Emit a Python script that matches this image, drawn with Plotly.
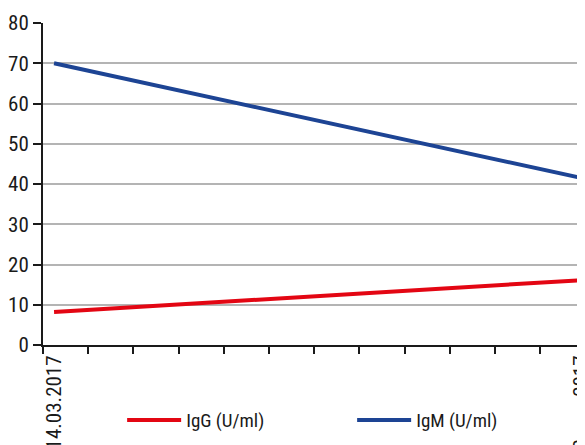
import plotly.graph_objects as go

dates = ["2017-03-14", "2017-04-25"]
date_labels = ["14.03.2017", "25.04.2017"]
igg = [8.2, 16.1]
igm = [70, 41.5]
y_ticks = [0, 10, 20, 30, 40, 50, 60, 70, 80]

FONT = "Liberation Sans Narrow, Roboto Condensed, DejaVu Sans Condensed, sans-serif"
RED = "#e30613"
BLUE = "#1d4494"

fig = go.Figure()
fig.add_trace(go.Scatter(x=dates, y=igg, mode="lines", name="IgG (U/ml)",
                         line=dict(color=RED, width=4), cliponaxis=False))
fig.add_trace(go.Scatter(x=dates, y=igm, mode="lines", name="IgM (U/ml)",
                         line=dict(color=BLUE, width=4), cliponaxis=False))

fig.update_layout(
    width=577, height=437,
    margin=dict(l=35, r=0, t=15, b=100, autoexpand=False),
    plot_bgcolor="white", paper_bgcolor="white",
    font=dict(family=FONT, size=21, color="#1a1a1a"),
    showlegend=True,
    legend=dict(orientation="h", x=0.146, xanchor="left", y=-0.233, yanchor="middle",
                itemwidth=54, entrywidth=161, entrywidthmode="pixels",
                font=dict(family=FONT, size=19, color="#1a1a1a")),
    xaxis=dict(
        type="date", automargin=False, ticklabeloverflow="allow",
        range=["2017-03-13 02:53", "2017-04-25 07:12"],
        tickmode="array", tickvals=dates, ticktext=date_labels,
        tickangle=-90, ticks="", showgrid=False,
        showline=True, linecolor="#1a1a1a", linewidth=2,
        minor=dict(ticks="outside", ticklen=7, tickwidth=2, tickcolor="#1a1a1a",
                   tick0="2017-03-13 02:53", dtick=311040000, showgrid=False),
        zeroline=False,
    ),
    yaxis=dict(
        range=[0, 80], tickmode="array", tickvals=y_ticks, automargin=False,
        ticks="outside", ticklen=8, tickwidth=2, tickcolor="#1a1a1a",
        showline=True, linecolor="#1a1a1a", linewidth=2,
        showgrid=True, gridcolor="#b4b4b4", gridwidth=2,
        zeroline=False,
    ),
)

fig.write_html("out.html")
